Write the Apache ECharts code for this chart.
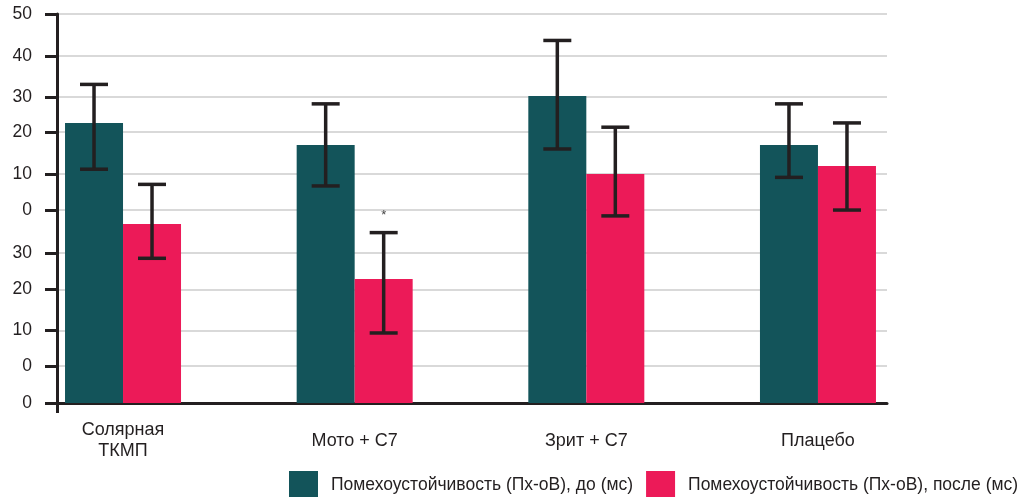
<!DOCTYPE html>
<html>
<head>
<meta charset="utf-8">
<script src="https://cdn.jsdelivr.net/npm/echarts@6/dist/echarts.min.js"></script>
<style>
  html, body { margin: 0; padding: 0; background: #fff; }
  #chart { width: 1027px; height: 497px; }
</style>
</head>
<body>
<div id="chart"></div>
<script>
// Groups along the horizontal axis
const categories = ['Солярная\nТКМП', 'Мото + С7', 'Зрит + С7', 'Плацебо'];
const seriesNames = [
  'Помехоустойчивость (Пх-оВ), до (мс)',
  'Помехоустойчивость (Пх-оВ), после (мс)'
];

// Means and error-bar limits (axis units)
const beforeValues = [72.0, 66.3, 78.9, 66.3];
const beforeLow    = [60.1, 55.8, 65.3, 58.0];
const beforeHigh   = [81.9, 76.9, 93.2, 76.9];
const afterValues  = [46.0, 31.9, 58.9, 60.9];
const afterLow     = [37.2, 18.0, 48.1, 49.6];
const afterHigh    = [56.2, 43.8, 70.9, 72.0];
const afterMarks   = ['', '*', '', ''];

// Vertical axis ticks and the labels printed at them
const yTickValues = [0, 9.5, 18.7, 29.2, 38.6, 49.6, 58.9, 69.7, 78.7, 89.2, 100];
const yTickLabels = ['0', '0', '10', '20', '30', '0', '10', '20', '30', '40', '50'];

const TEAL = '#13545a';
const PINK = '#ec1a58';
const INK = '#231f20';
const BAR_W = 58;
const FONT = "'Liberation Sans', Arial, sans-serif";
const X_MIN = -0.285, X_MAX = 3.298;

const chart = echarts.init(document.getElementById('chart'), null, { renderer: 'canvas' });

function errorSeries(name, low, high, marks, side) {
  return {
    type: 'custom',
    name: name,
    silent: true,
    z: 5,
    data: low.map((l, i) => [i, l, high[i]]),
    encode: { x: 0, y: [1, 2] },
    renderItem: function (params, api) {
      const cx = api.coord([api.value(0), 0])[0] + side * BAR_W / 2;
      const yLo = api.coord([0, api.value(1)])[1];
      const yHi = api.coord([0, api.value(2)])[1];
      const cap = 14;
      const style = { stroke: INK, lineWidth: 3.5 };
      const children = [
        { type: 'line', shape: { x1: cx, y1: yHi, x2: cx, y2: yLo }, style: style },
        { type: 'line', shape: { x1: cx - cap, y1: yHi, x2: cx + cap, y2: yHi }, style: style },
        { type: 'line', shape: { x1: cx - cap, y1: yLo, x2: cx + cap, y2: yLo }, style: style }
      ];
      const mark = marks ? marks[params.dataIndex] : '';
      if (mark) {
        children.push({
          type: 'text',
          style: {
            text: mark, x: cx, y: yHi - 17, align: 'center', verticalAlign: 'middle',
            fontSize: 13, fill: '#444', fontFamily: FONT
          }
        });
      }
      return { type: 'group', children: children };
    }
  };
}

chart.setOption({
  backgroundColor: '#fff',
  animation: false,
  grid: { left: 57, right: 140, top: 14, bottom: 94, outerBoundsMode: 'none' },
  legend: {
    data: seriesNames,
    left: 289,
    top: 471,
    padding: 0,
    itemWidth: 29,
    itemHeight: 29,
    itemGap: 13,
    icon: 'rect',
    textStyle: { fontSize: 17.5, color: INK, fontFamily: FONT, padding: [6, 0, 0, 8] }
  },
  xAxis: {
    type: 'value',
    min: X_MIN,
    max: X_MAX,
    splitLine: { show: false },
    axisLine: { show: true, onZero: false, lineStyle: { color: INK, width: 3 } },
    axisTick: { show: true, customValues: [X_MIN], length: 10, lineStyle: { color: INK, width: 3 } },
    axisLabel: {
      customValues: [0, 1, 2, 3],
      formatter: v => categories[Math.round(v)],
      margin: 38,
      verticalAlign: 'middle',
      lineHeight: 21,
      fontSize: 18,
      color: INK,
      fontFamily: FONT
    }
  },
  yAxis: {
    type: 'value',
    min: 0,
    max: 100,
    axisLine: { show: true, onZero: false, lineStyle: { color: INK, width: 3 } },
    axisTick: { show: true, customValues: yTickValues, length: 12, lineStyle: { color: INK, width: 3 } },
    axisLabel: {
      customValues: yTickValues,
      formatter: v => {
        const i = yTickValues.findIndex(t => Math.abs(t - v) < 1e-6);
        return i >= 0 ? yTickLabels[i] : '';
      },
      margin: 25,
      fontSize: 17.5,
      color: INK,
      fontFamily: FONT
    },
    splitLine: { show: true, lineStyle: { color: '#d9d9d9', width: 2 } }
  },
  series: [
    {
      type: 'bar',
      name: seriesNames[0],
      data: beforeValues.map((v, i) => [i, v]),
      barWidth: BAR_W,
      barGap: '0%',
      itemStyle: { color: TEAL },
      z: 2
    },
    {
      type: 'bar',
      name: seriesNames[1],
      data: afterValues.map((v, i) => [i, v]),
      barWidth: BAR_W,
      barGap: '0%',
      itemStyle: { color: PINK },
      z: 2
    },
    errorSeries('err-before', beforeLow, beforeHigh, null, -1),
    errorSeries('err-after', afterLow, afterHigh, afterMarks, 1)
  ]
});
</script>
</body>
</html>
